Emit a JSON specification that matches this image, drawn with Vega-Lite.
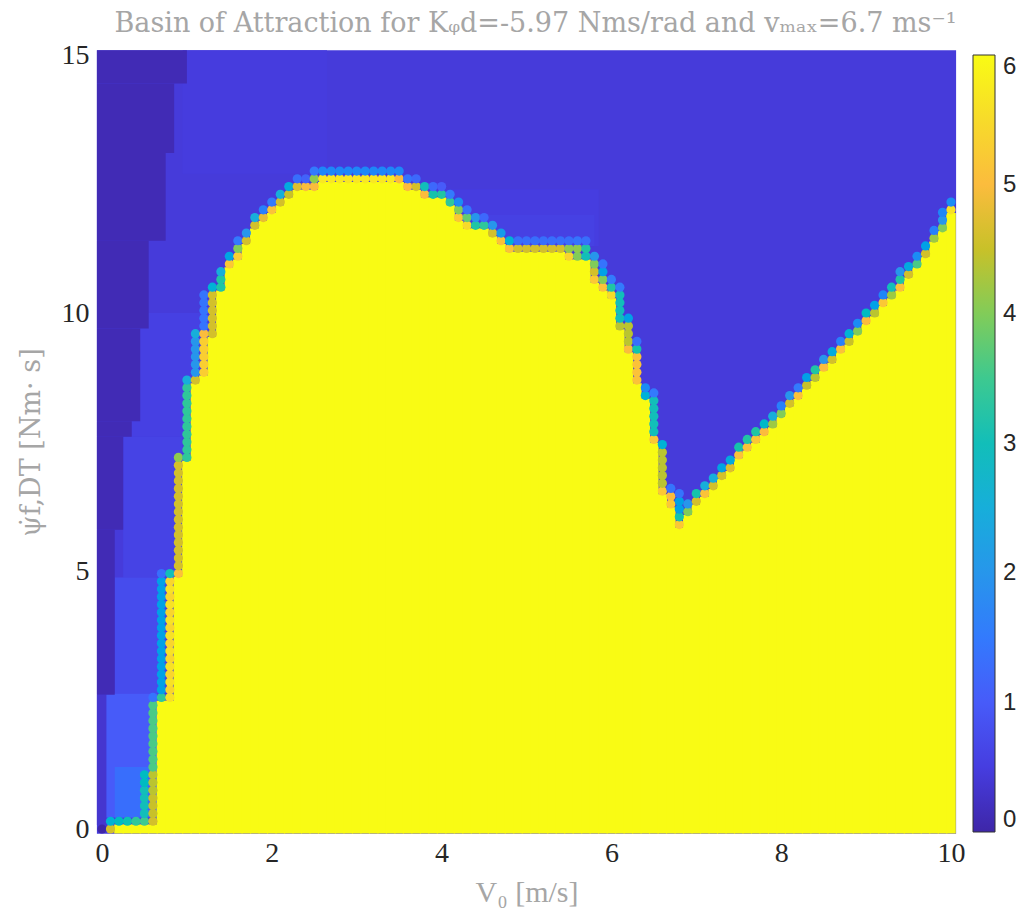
{
  "$schema": "https://vega.github.io/schema/vega-lite/v6.json",
  "width": 859,
  "height": 774,
  "autosize": {"type": "none"},
  "padding": {"left": 97, "top": 55, "right": 75, "bottom": 88},
  "background": "white",
  "title": {
    "text": "Basin of Attraction for Kᵩd=-5.97 Nms/rad and vₘₐₓ=6.7 ms⁻¹",
    "font": "DejaVu Serif",
    "fontSize": 27,
    "fontWeight": "normal",
    "color": "#a6a6a6",
    "anchor": "middle",
    "dx": 9,
    "offset": 3
  },
  "config": {
    "view": {"stroke": null},
    "axis": {
      "grid": false,
      "domain": false,
      "ticks": false,
      "tickSize": 0,
      "labelFont": "Liberation Serif",
      "labelFontSize": 28,
      "labelColor": "#262626",
      "titleFont": "Liberation Serif",
      "titleFontSize": 30,
      "titleFontWeight": "normal",
      "titleColor": "#a6a6a6"
    }
  },
  "datasets": {
    "blocks": [
      {"V0a": -0.06, "V0b": 10.06, "psia": -0.09, "psib": 15.09, "level": 0.45},
      {"V0a": 0.95, "V0b": 2.65, "psia": 12.7, "psib": 15.09, "level": 0.48},
      {"V0a": 3.65, "V0b": 5.85, "psia": 11.3, "psib": 12.4, "level": 0.5},
      {"V0a": 4.4, "V0b": 5.8, "psia": 11.3, "psib": 11.9, "level": 0.56},
      {"V0a": 0.35, "V0b": 1.25, "psia": 7.6, "psib": 10.0, "level": 0.55},
      {"V0a": 0.25, "V0b": 0.95, "psia": 4.875, "psib": 7.6, "level": 0.6},
      {"V0a": 0.15, "V0b": 0.75, "psia": 2.625, "psib": 4.875, "level": 0.75},
      {"V0a": 0.05, "V0b": 0.65, "psia": 0.225, "psib": 2.625, "level": 1.0},
      {"V0a": 0.15, "V0b": 0.55, "psia": 0.225, "psib": 1.2, "level": 1.3},
      {"V0a": -0.06, "V0b": 1.0, "psia": 14.45, "psib": 15.09, "level": 0.12},
      {"V0a": -0.06, "V0b": 0.85, "psia": 13.1, "psib": 14.45, "level": 0.12},
      {"V0a": -0.06, "V0b": 0.75, "psia": 11.4, "psib": 13.1, "level": 0.12},
      {"V0a": -0.06, "V0b": 0.55, "psia": 9.7, "psib": 11.4, "level": 0.12},
      {"V0a": -0.06, "V0b": 0.45, "psia": 7.9, "psib": 9.7, "level": 0.12},
      {"V0a": -0.06, "V0b": 0.35, "psia": 7.6, "psib": 7.9, "level": 0.12},
      {"V0a": -0.06, "V0b": 0.25, "psia": 5.8, "psib": 7.6, "level": 0.12},
      {"V0a": -0.06, "V0b": 0.15, "psia": 2.6, "psib": 5.8, "level": 0.12},
      {"V0a": -0.06, "V0b": 0.05, "psia": 0.075, "psib": 2.6, "level": 0.35}
    ],
    "cols": [
      {"V0": 0.2, "top": 0}, {"V0": 0.3, "top": 0}, {"V0": 0.4, "top": 0}, {"V0": 0.5, "top": 0},
      {"V0": 0.6, "top": 0}, {"V0": 0.7, "top": 2.4}, {"V0": 0.8, "top": 2.4}, {"V0": 0.9, "top": 4.8},
      {"V0": 1.0, "top": 7.05}, {"V0": 1.1, "top": 8.55}, {"V0": 1.2, "top": 8.7}, {"V0": 1.3, "top": 9.45},
      {"V0": 1.4, "top": 10.35}, {"V0": 1.5, "top": 10.8}, {"V0": 1.6, "top": 10.95}, {"V0": 1.7, "top": 11.25},
      {"V0": 1.8, "top": 11.55}, {"V0": 1.9, "top": 11.7}, {"V0": 2.0, "top": 11.85}, {"V0": 2.1, "top": 12.0},
      {"V0": 2.2, "top": 12.15}, {"V0": 2.3, "top": 12.3}, {"V0": 2.4, "top": 12.3}, {"V0": 2.5, "top": 12.3},
      {"V0": 2.6, "top": 12.45}, {"V0": 2.7, "top": 12.45}, {"V0": 2.8, "top": 12.45}, {"V0": 2.9, "top": 12.45},
      {"V0": 3.0, "top": 12.45}, {"V0": 3.1, "top": 12.45}, {"V0": 3.2, "top": 12.45}, {"V0": 3.3, "top": 12.45},
      {"V0": 3.4, "top": 12.45}, {"V0": 3.5, "top": 12.45}, {"V0": 3.6, "top": 12.3}, {"V0": 3.7, "top": 12.3},
      {"V0": 3.8, "top": 12.15}, {"V0": 3.9, "top": 12.15}, {"V0": 4.0, "top": 12.15}, {"V0": 4.1, "top": 12.0},
      {"V0": 4.2, "top": 11.7}, {"V0": 4.3, "top": 11.55}, {"V0": 4.4, "top": 11.55}, {"V0": 4.5, "top": 11.55},
      {"V0": 4.6, "top": 11.4}, {"V0": 4.7, "top": 11.25}, {"V0": 4.8, "top": 11.1}, {"V0": 4.9, "top": 11.1},
      {"V0": 5.0, "top": 11.1}, {"V0": 5.1, "top": 11.1}, {"V0": 5.2, "top": 11.1}, {"V0": 5.3, "top": 11.1},
      {"V0": 5.4, "top": 11.1}, {"V0": 5.5, "top": 10.95}, {"V0": 5.6, "top": 10.95}, {"V0": 5.7, "top": 10.95},
      {"V0": 5.8, "top": 10.5}, {"V0": 5.9, "top": 10.35}, {"V0": 6.0, "top": 10.2}, {"V0": 6.1, "top": 9.6},
      {"V0": 6.2, "top": 9.15}, {"V0": 6.3, "top": 8.55}, {"V0": 6.4, "top": 8.25}, {"V0": 6.5, "top": 7.4},
      {"V0": 6.6, "top": 6.4}, {"V0": 6.7, "top": 6.15}, {"V0": 6.8, "top": 5.75}, {"V0": 6.9, "top": 6.0},
      {"V0": 7.0, "top": 6.2}, {"V0": 7.1, "top": 6.35}, {"V0": 7.2, "top": 6.5}, {"V0": 7.3, "top": 6.7},
      {"V0": 7.4, "top": 6.85}, {"V0": 7.5, "top": 7.1}, {"V0": 7.6, "top": 7.25}, {"V0": 7.7, "top": 7.4},
      {"V0": 7.8, "top": 7.55}, {"V0": 7.9, "top": 7.7}, {"V0": 8.0, "top": 7.9}, {"V0": 8.1, "top": 8.1},
      {"V0": 8.2, "top": 8.25}, {"V0": 8.3, "top": 8.45}, {"V0": 8.4, "top": 8.6}, {"V0": 8.5, "top": 8.8},
      {"V0": 8.6, "top": 8.95}, {"V0": 8.7, "top": 9.15}, {"V0": 8.8, "top": 9.3}, {"V0": 8.9, "top": 9.5},
      {"V0": 9.0, "top": 9.7}, {"V0": 9.1, "top": 9.85}, {"V0": 9.2, "top": 10.05}, {"V0": 9.3, "top": 10.2},
      {"V0": 9.4, "top": 10.35}, {"V0": 9.5, "top": 10.6}, {"V0": 9.6, "top": 10.8}, {"V0": 9.7, "top": 11.0},
      {"V0": 9.8, "top": 11.3}, {"V0": 9.9, "top": 11.5}, {"V0": 10.0, "top": 11.85}
    ],
    "cells": [
      {"V0": 0, "psi": 0, "level": 0},
      {"V0": 0.1, "psi": 0, "level": 4.6}, {"V0": 0.1, "psi": 0.15, "level": 2.6},
      {"V0": 0.2, "psi": 0.15, "level": 2.9}, {"V0": 0.3, "psi": 0.15, "level": 3.1},
      {"V0": 0.4, "psi": 0.15, "level": 3.4}, {"V0": 0.5, "psi": 0.15, "level": 3.5},
      {"V0": 0.5, "psi": 0.3, "level": 3.0}, {"V0": 0.5, "psi": 0.45, "level": 3.0}, {"V0": 0.5, "psi": 0.6, "level": 3.0},
      {"V0": 0.5, "psi": 0.75, "level": 3.0}, {"V0": 0.5, "psi": 0.9, "level": 2.9}, {"V0": 0.5, "psi": 1.05, "level": 2.9},
      {"V0": 0.6, "psi": 0.15, "level": 4.6}, {"V0": 0.6, "psi": 0.3, "level": 4.5}, {"V0": 0.6, "psi": 0.45, "level": 4.5},
      {"V0": 0.6, "psi": 0.6, "level": 4.5}, {"V0": 0.6, "psi": 0.75, "level": 4.4}, {"V0": 0.6, "psi": 0.9, "level": 4.4},
      {"V0": 0.6, "psi": 1.05, "level": 4.4},
      {"V0": 0.6, "psi": 1.2, "level": 3.6}, {"V0": 0.6, "psi": 1.35, "level": 3.6}, {"V0": 0.6, "psi": 1.5, "level": 3.6},
      {"V0": 0.6, "psi": 1.65, "level": 3.6}, {"V0": 0.6, "psi": 1.8, "level": 3.6}, {"V0": 0.6, "psi": 1.95, "level": 3.6},
      {"V0": 0.6, "psi": 2.1, "level": 3.6}, {"V0": 0.6, "psi": 2.25, "level": 3.6}, {"V0": 0.6, "psi": 2.4, "level": 3.6},
      {"V0": 0.6, "psi": 2.55, "level": 1.4},
      {"V0": 0.7, "psi": 2.55, "level": 3.4},
      {"V0": 0.7, "psi": 2.7, "level": 2.2}, {"V0": 0.7, "psi": 2.85, "level": 2.2}, {"V0": 0.7, "psi": 3.0, "level": 2.2},
      {"V0": 0.7, "psi": 3.15, "level": 2.2}, {"V0": 0.7, "psi": 3.3, "level": 2.2}, {"V0": 0.7, "psi": 3.45, "level": 2.2},
      {"V0": 0.7, "psi": 3.6, "level": 2.2}, {"V0": 0.7, "psi": 3.75, "level": 2.2}, {"V0": 0.7, "psi": 3.9, "level": 2.2},
      {"V0": 0.7, "psi": 4.05, "level": 2.2}, {"V0": 0.7, "psi": 4.2, "level": 2.2}, {"V0": 0.7, "psi": 4.35, "level": 2.2},
      {"V0": 0.7, "psi": 4.5, "level": 2.2}, {"V0": 0.7, "psi": 4.65, "level": 2.2}, {"V0": 0.7, "psi": 4.8, "level": 2.2},
      {"V0": 0.7, "psi": 4.95, "level": 1.3},
      {"V0": 0.8, "psi": 2.55, "level": 5.6}, {"V0": 0.8, "psi": 2.7, "level": 5.4}, {"V0": 0.8, "psi": 2.85, "level": 5.6},
      {"V0": 0.8, "psi": 3.0, "level": 5.4}, {"V0": 0.8, "psi": 3.15, "level": 5.6}, {"V0": 0.8, "psi": 3.3, "level": 5.4},
      {"V0": 0.8, "psi": 3.45, "level": 5.6}, {"V0": 0.8, "psi": 3.6, "level": 5.4}, {"V0": 0.8, "psi": 3.75, "level": 5.6},
      {"V0": 0.8, "psi": 3.9, "level": 5.4}, {"V0": 0.8, "psi": 4.05, "level": 5.6}, {"V0": 0.8, "psi": 4.2, "level": 5.4},
      {"V0": 0.8, "psi": 4.35, "level": 5.6}, {"V0": 0.8, "psi": 4.5, "level": 5.4}, {"V0": 0.8, "psi": 4.65, "level": 5.6},
      {"V0": 0.8, "psi": 4.8, "level": 5.4}, {"V0": 0.8, "psi": 4.95, "level": 3.0},
      {"V0": 0.9, "psi": 4.95, "level": 5.1},
      {"V0": 0.9, "psi": 5.1, "level": 4.6}, {"V0": 0.9, "psi": 5.25, "level": 4.6}, {"V0": 0.9, "psi": 5.4, "level": 4.6},
      {"V0": 0.9, "psi": 5.55, "level": 4.6}, {"V0": 0.9, "psi": 5.7, "level": 4.6}, {"V0": 0.9, "psi": 5.85, "level": 4.6},
      {"V0": 0.9, "psi": 6.0, "level": 4.6}, {"V0": 0.9, "psi": 6.15, "level": 4.6}, {"V0": 0.9, "psi": 6.3, "level": 4.6},
      {"V0": 0.9, "psi": 6.45, "level": 4.6}, {"V0": 0.9, "psi": 6.6, "level": 4.6}, {"V0": 0.9, "psi": 6.75, "level": 4.6},
      {"V0": 0.9, "psi": 6.9, "level": 4.6}, {"V0": 0.9, "psi": 7.05, "level": 4.6}, {"V0": 0.9, "psi": 7.2, "level": 4.1},
      {"V0": 1.0, "psi": 7.2, "level": 3.4}, {"V0": 1.0, "psi": 7.35, "level": 3.4}, {"V0": 1.0, "psi": 7.5, "level": 3.4},
      {"V0": 1.0, "psi": 7.65, "level": 3.4}, {"V0": 1.0, "psi": 7.8, "level": 3.4}, {"V0": 1.0, "psi": 7.95, "level": 3.4},
      {"V0": 1.0, "psi": 8.1, "level": 3.4}, {"V0": 1.0, "psi": 8.25, "level": 3.4}, {"V0": 1.0, "psi": 8.4, "level": 3.4},
      {"V0": 1.0, "psi": 8.55, "level": 3.4}, {"V0": 1.0, "psi": 8.7, "level": 2.5},
      {"V0": 1.1, "psi": 8.7, "level": 4.6},
      {"V0": 1.1, "psi": 8.85, "level": 2.0}, {"V0": 1.1, "psi": 9.0, "level": 2.0}, {"V0": 1.1, "psi": 9.15, "level": 2.0},
      {"V0": 1.1, "psi": 9.3, "level": 2.0}, {"V0": 1.1, "psi": 9.45, "level": 2.0}, {"V0": 1.1, "psi": 9.6, "level": 2.5},
      {"V0": 1.2, "psi": 8.85, "level": 5.3}, {"V0": 1.2, "psi": 9.0, "level": 5.3}, {"V0": 1.2, "psi": 9.15, "level": 5.3},
      {"V0": 1.2, "psi": 9.3, "level": 5.3}, {"V0": 1.2, "psi": 9.45, "level": 5.3}, {"V0": 1.2, "psi": 9.6, "level": 5.0},
      {"V0": 1.2, "psi": 9.75, "level": 1.4}, {"V0": 1.2, "psi": 9.9, "level": 1.4}, {"V0": 1.2, "psi": 10.05, "level": 1.4},
      {"V0": 1.2, "psi": 10.2, "level": 1.4}, {"V0": 1.2, "psi": 10.35, "level": 1.4},
      {"V0": 1.3, "psi": 9.6, "level": 4.6}, {"V0": 1.3, "psi": 9.75, "level": 4.6}, {"V0": 1.3, "psi": 9.9, "level": 4.6},
      {"V0": 1.3, "psi": 10.05, "level": 4.6}, {"V0": 1.3, "psi": 10.2, "level": 4.6}, {"V0": 1.3, "psi": 10.35, "level": 4.6},
      {"V0": 1.3, "psi": 10.5, "level": 2.6},
      {"V0": 1.4, "psi": 10.5, "level": 3.3}, {"V0": 1.4, "psi": 10.65, "level": 3.3}, {"V0": 1.4, "psi": 10.8, "level": 2.5},
      {"V0": 1.5, "psi": 10.95, "level": 5.2}, {"V0": 1.5, "psi": 11.1, "level": 2.3},
      {"V0": 1.6, "psi": 11.1, "level": 5.3}, {"V0": 1.6, "psi": 11.25, "level": 4.0}, {"V0": 1.6, "psi": 11.4, "level": 1.5},
      {"V0": 1.7, "psi": 11.4, "level": 4.6}, {"V0": 1.7, "psi": 11.55, "level": 2.0},
      {"V0": 1.8, "psi": 11.7, "level": 4.6}, {"V0": 1.8, "psi": 11.85, "level": 2.5},
      {"V0": 1.9, "psi": 11.85, "level": 4.8}, {"V0": 1.9, "psi": 12.0, "level": 1.6},
      {"V0": 2.0, "psi": 12.0, "level": 5.1}, {"V0": 2.0, "psi": 12.15, "level": 1.5},
      {"V0": 2.1, "psi": 12.15, "level": 4.6}, {"V0": 2.1, "psi": 12.3, "level": 2.5},
      {"V0": 2.2, "psi": 12.3, "level": 4.5}, {"V0": 2.2, "psi": 12.45, "level": 2.4},
      {"V0": 2.3, "psi": 12.45, "level": 4.7}, {"V0": 2.3, "psi": 12.6, "level": 1.3},
      {"V0": 2.4, "psi": 12.45, "level": 5.0}, {"V0": 2.4, "psi": 12.6, "level": 1.1},
      {"V0": 2.5, "psi": 12.45, "level": 5.0}, {"V0": 2.5, "psi": 12.6, "level": 4.1}, {"V0": 2.5, "psi": 12.75, "level": 1.5},
      {"V0": 2.6, "psi": 12.6, "level": 5.7}, {"V0": 2.6, "psi": 12.75, "level": 1.7},
      {"V0": 2.7, "psi": 12.6, "level": 5.7}, {"V0": 2.7, "psi": 12.75, "level": 1.7},
      {"V0": 2.8, "psi": 12.6, "level": 5.7}, {"V0": 2.8, "psi": 12.75, "level": 1.7},
      {"V0": 2.9, "psi": 12.6, "level": 5.7}, {"V0": 2.9, "psi": 12.75, "level": 1.7},
      {"V0": 3.0, "psi": 12.6, "level": 5.7}, {"V0": 3.0, "psi": 12.75, "level": 1.7},
      {"V0": 3.1, "psi": 12.6, "level": 5.7}, {"V0": 3.1, "psi": 12.75, "level": 1.7},
      {"V0": 3.2, "psi": 12.6, "level": 5.7}, {"V0": 3.2, "psi": 12.75, "level": 1.7},
      {"V0": 3.3, "psi": 12.6, "level": 5.7}, {"V0": 3.3, "psi": 12.75, "level": 1.7},
      {"V0": 3.4, "psi": 12.6, "level": 5.7}, {"V0": 3.4, "psi": 12.75, "level": 1.7},
      {"V0": 3.5, "psi": 12.6, "level": 5.0}, {"V0": 3.5, "psi": 12.75, "level": 1.7},
      {"V0": 3.6, "psi": 12.45, "level": 5.0}, {"V0": 3.6, "psi": 12.6, "level": 1.4},
      {"V0": 3.7, "psi": 12.45, "level": 4.6}, {"V0": 3.7, "psi": 12.6, "level": 1.2},
      {"V0": 3.8, "psi": 12.3, "level": 5.0}, {"V0": 3.8, "psi": 12.45, "level": 3.0},
      {"V0": 3.9, "psi": 12.3, "level": 3.2}, {"V0": 3.9, "psi": 12.45, "level": 1.2},
      {"V0": 4.0, "psi": 12.3, "level": 3.3}, {"V0": 4.0, "psi": 12.45, "level": 1.0},
      {"V0": 4.1, "psi": 12.15, "level": 3.4}, {"V0": 4.1, "psi": 12.3, "level": 1.5},
      {"V0": 4.2, "psi": 11.85, "level": 5.2}, {"V0": 4.2, "psi": 12.0, "level": 4.0}, {"V0": 4.2, "psi": 12.15, "level": 1.8},
      {"V0": 4.3, "psi": 11.7, "level": 5.5}, {"V0": 4.3, "psi": 11.85, "level": 3.8}, {"V0": 4.3, "psi": 12.0, "level": 1.4},
      {"V0": 4.4, "psi": 11.7, "level": 3.3}, {"V0": 4.4, "psi": 11.85, "level": 2.0},
      {"V0": 4.5, "psi": 11.7, "level": 3.4}, {"V0": 4.5, "psi": 11.85, "level": 1.2},
      {"V0": 4.6, "psi": 11.55, "level": 4.6}, {"V0": 4.6, "psi": 11.7, "level": 2.0},
      {"V0": 4.7, "psi": 11.4, "level": 5.1}, {"V0": 4.7, "psi": 11.55, "level": 2.1},
      {"V0": 4.8, "psi": 11.25, "level": 5.1}, {"V0": 4.8, "psi": 11.4, "level": 2.6},
      {"V0": 4.9, "psi": 11.25, "level": 4.6}, {"V0": 4.9, "psi": 11.4, "level": 1.3},
      {"V0": 5.0, "psi": 11.25, "level": 4.6}, {"V0": 5.0, "psi": 11.4, "level": 1.3},
      {"V0": 5.1, "psi": 11.25, "level": 4.6}, {"V0": 5.1, "psi": 11.4, "level": 1.3},
      {"V0": 5.2, "psi": 11.25, "level": 4.6}, {"V0": 5.2, "psi": 11.4, "level": 1.3},
      {"V0": 5.3, "psi": 11.25, "level": 4.6}, {"V0": 5.3, "psi": 11.4, "level": 1.3},
      {"V0": 5.4, "psi": 11.25, "level": 4.6}, {"V0": 5.4, "psi": 11.4, "level": 1.3},
      {"V0": 5.5, "psi": 11.1, "level": 5.4}, {"V0": 5.5, "psi": 11.25, "level": 4.1}, {"V0": 5.5, "psi": 11.4, "level": 1.3},
      {"V0": 5.6, "psi": 11.1, "level": 4.0}, {"V0": 5.6, "psi": 11.25, "level": 4.1}, {"V0": 5.6, "psi": 11.4, "level": 1.4},
      {"V0": 5.7, "psi": 11.1, "level": 3.0}, {"V0": 5.7, "psi": 11.25, "level": 3.3}, {"V0": 5.7, "psi": 11.4, "level": 1.3},
      {"V0": 5.8, "psi": 10.65, "level": 5.2}, {"V0": 5.8, "psi": 10.8, "level": 4.6}, {"V0": 5.8, "psi": 10.95, "level": 4.0},
      {"V0": 5.8, "psi": 11.1, "level": 2.0},
      {"V0": 5.9, "psi": 10.5, "level": 5.1}, {"V0": 5.9, "psi": 10.65, "level": 4.0}, {"V0": 5.9, "psi": 10.8, "level": 2.2},
      {"V0": 5.9, "psi": 10.95, "level": 1.4},
      {"V0": 6.0, "psi": 10.35, "level": 5.5}, {"V0": 6.0, "psi": 10.5, "level": 3.3}, {"V0": 6.0, "psi": 10.65, "level": 1.5},
      {"V0": 6.1, "psi": 9.75, "level": 4.4}, {"V0": 6.1, "psi": 9.9, "level": 3.0}, {"V0": 6.1, "psi": 10.05, "level": 3.0},
      {"V0": 6.1, "psi": 10.2, "level": 3.0}, {"V0": 6.1, "psi": 10.35, "level": 3.0}, {"V0": 6.1, "psi": 10.5, "level": 1.5},
      {"V0": 6.2, "psi": 9.3, "level": 5.0}, {"V0": 6.2, "psi": 9.45, "level": 4.4}, {"V0": 6.2, "psi": 9.6, "level": 4.4},
      {"V0": 6.2, "psi": 9.75, "level": 4.4}, {"V0": 6.2, "psi": 9.9, "level": 2.2},
      {"V0": 6.3, "psi": 8.7, "level": 5.1}, {"V0": 6.3, "psi": 8.85, "level": 5.1}, {"V0": 6.3, "psi": 9.0, "level": 5.1},
      {"V0": 6.3, "psi": 9.15, "level": 5.1}, {"V0": 6.3, "psi": 9.3, "level": 3.2}, {"V0": 6.3, "psi": 9.45, "level": 1.3},
      {"V0": 6.4, "psi": 8.4, "level": 2.6}, {"V0": 6.4, "psi": 8.55, "level": 1.8},
      {"V0": 6.5, "psi": 7.55, "level": 5.2}, {"V0": 6.5, "psi": 7.7, "level": 3.0}, {"V0": 6.5, "psi": 7.85, "level": 3.0},
      {"V0": 6.5, "psi": 8.0, "level": 3.0}, {"V0": 6.5, "psi": 8.15, "level": 3.0}, {"V0": 6.5, "psi": 8.3, "level": 3.0},
      {"V0": 6.5, "psi": 8.45, "level": 1.5},
      {"V0": 6.6, "psi": 6.55, "level": 5.2}, {"V0": 6.6, "psi": 6.7, "level": 4.4}, {"V0": 6.6, "psi": 6.85, "level": 4.4},
      {"V0": 6.6, "psi": 7.0, "level": 4.4}, {"V0": 6.6, "psi": 7.15, "level": 4.4}, {"V0": 6.6, "psi": 7.3, "level": 4.4},
      {"V0": 6.6, "psi": 7.45, "level": 2.6},
      {"V0": 6.7, "psi": 6.3, "level": 5.2}, {"V0": 6.7, "psi": 6.45, "level": 5.0}, {"V0": 6.7, "psi": 6.6, "level": 1.4},
      {"V0": 6.8, "psi": 5.9, "level": 5.2}, {"V0": 6.8, "psi": 6.05, "level": 3.2}, {"V0": 6.8, "psi": 6.2, "level": 2.2},
      {"V0": 6.8, "psi": 6.35, "level": 2.2}, {"V0": 6.8, "psi": 6.5, "level": 1.4},
      {"V0": 6.9, "psi": 6.15, "level": 4.0}, {"V0": 6.9, "psi": 6.3, "level": 2.0},
      {"V0": 7.0, "psi": 6.35, "level": 4.6}, {"V0": 7.0, "psi": 6.5, "level": 3.2},
      {"V0": 7.1, "psi": 6.5, "level": 5.1}, {"V0": 7.1, "psi": 6.65, "level": 2.5},
      {"V0": 7.2, "psi": 6.65, "level": 4.6}, {"V0": 7.2, "psi": 6.8, "level": 2.5},
      {"V0": 7.3, "psi": 6.85, "level": 4.6}, {"V0": 7.3, "psi": 7.0, "level": 2.3},
      {"V0": 7.4, "psi": 7.0, "level": 4.7}, {"V0": 7.4, "psi": 7.15, "level": 2.4},
      {"V0": 7.5, "psi": 7.25, "level": 5.1}, {"V0": 7.5, "psi": 7.4, "level": 3.2},
      {"V0": 7.6, "psi": 7.4, "level": 5.1}, {"V0": 7.6, "psi": 7.55, "level": 3.3},
      {"V0": 7.7, "psi": 7.55, "level": 5.2}, {"V0": 7.7, "psi": 7.7, "level": 3.3},
      {"V0": 7.8, "psi": 7.7, "level": 5.0}, {"V0": 7.8, "psi": 7.85, "level": 2.8},
      {"V0": 7.9, "psi": 7.85, "level": 4.2}, {"V0": 7.9, "psi": 8.0, "level": 2.5},
      {"V0": 8.0, "psi": 8.05, "level": 4.0}, {"V0": 8.0, "psi": 8.2, "level": 1.6},
      {"V0": 8.1, "psi": 8.25, "level": 4.6}, {"V0": 8.1, "psi": 8.4, "level": 2.0},
      {"V0": 8.2, "psi": 8.4, "level": 5.1}, {"V0": 8.2, "psi": 8.55, "level": 1.5},
      {"V0": 8.3, "psi": 8.6, "level": 4.5}, {"V0": 8.3, "psi": 8.75, "level": 2.2},
      {"V0": 8.4, "psi": 8.75, "level": 4.4}, {"V0": 8.4, "psi": 8.9, "level": 3.3},
      {"V0": 8.5, "psi": 8.95, "level": 5.0}, {"V0": 8.5, "psi": 9.1, "level": 2.0},
      {"V0": 8.6, "psi": 9.1, "level": 4.6}, {"V0": 8.6, "psi": 9.25, "level": 2.4},
      {"V0": 8.7, "psi": 9.3, "level": 5.1}, {"V0": 8.7, "psi": 9.45, "level": 1.6},
      {"V0": 8.8, "psi": 9.45, "level": 4.5}, {"V0": 8.8, "psi": 9.6, "level": 2.6},
      {"V0": 8.9, "psi": 9.65, "level": 4.0}, {"V0": 8.9, "psi": 9.8, "level": 1.8},
      {"V0": 9.0, "psi": 9.85, "level": 5.0}, {"V0": 9.0, "psi": 10.0, "level": 2.9},
      {"V0": 9.1, "psi": 10.0, "level": 4.4}, {"V0": 9.1, "psi": 10.15, "level": 2.2},
      {"V0": 9.2, "psi": 10.2, "level": 5.2}, {"V0": 9.2, "psi": 10.35, "level": 1.7},
      {"V0": 9.3, "psi": 10.35, "level": 4.2}, {"V0": 9.3, "psi": 10.5, "level": 3.0},
      {"V0": 9.4, "psi": 10.5, "level": 5.1}, {"V0": 9.4, "psi": 10.65, "level": 3.3}, {"V0": 9.4, "psi": 10.8, "level": 2.0},
      {"V0": 9.5, "psi": 10.75, "level": 4.6}, {"V0": 9.5, "psi": 10.9, "level": 2.4},
      {"V0": 9.6, "psi": 10.95, "level": 3.6}, {"V0": 9.6, "psi": 11.1, "level": 1.8},
      {"V0": 9.7, "psi": 11.15, "level": 4.6}, {"V0": 9.7, "psi": 11.3, "level": 2.2},
      {"V0": 9.8, "psi": 11.45, "level": 4.2}, {"V0": 9.8, "psi": 11.6, "level": 1.6},
      {"V0": 9.9, "psi": 11.65, "level": 4.0}, {"V0": 9.9, "psi": 11.8, "level": 2.0}, {"V0": 9.9, "psi": 11.95, "level": 1.7},
      {"V0": 10.0, "psi": 12.0, "level": 5.6}, {"V0": 10.0, "psi": 12.15, "level": 1.8}
    ]
  },
  "layer": [
    {
      "data": {"name": "blocks"},
      "mark": {"type": "rect", "strokeWidth": 0},
      "encoding": {
        "x": {
          "field": "V0a", "type": "quantitative", "title": "V₀ [m/s]",
          "scale": {"domain": [0, 10], "nice": false, "zero": false},
          "axis": {"values": [0, 2, 4, 6, 8, 10], "format": "d", "labelPadding": 10, "titlePadding": 10}
        },
        "x2": {"field": "V0b"},
        "y": {
          "field": "psia", "type": "quantitative", "title": "ψ̇f,DT [Nm· s]",
          "scale": {"domain": [0, 15], "nice": false, "zero": false},
          "axis": {"values": [0, 5, 10, 15], "format": "d", "labelPadding": 8, "titlePadding": 16, "titleFont": "DejaVu Serif", "titleFontSize": 27}
        },
        "y2": {"field": "psib"},
        "color": {
          "field": "level", "type": "quantitative", "title": null,
          "scale": {
            "domain": [0, 0.5, 1, 1.5, 2, 2.5, 3, 3.5, 4, 4.5, 5, 5.5, 6],
            "range": ["#3E26A8", "#463DE0", "#475BF9", "#337AFD", "#2796EB", "#17AEDA", "#12BEB9", "#3DC990", "#81CC59", "#C8C129", "#FBBC3D", "#F7DB2A", "#F9FB14"]
          },
          "legend": {
            "orient": "right",
            "offset": 17,
            "direction": "vertical",
            "values": [0, 1, 2, 3, 4, 5, 6],
            "format": "d",
            "gradientLength": 777,
            "gradientThickness": 22,
            "gradientStrokeColor": "#333333",
            "gradientStrokeWidth": 1,
            "labelFont": "Liberation Sans",
            "labelFontSize": 24,
            "labelColor": "#262626",
            "labelOffset": 8,
            "labelBaseline": "middle",
            "labelOverlap": false
          }
        }
      }
    },
    {
      "data": {"name": "cols"},
      "mark": {"type": "bar", "width": 9.6, "color": "#F9FB14", "yOffset": -4.5, "y2Offset": 4.5, "strokeWidth": 0},
      "encoding": {
        "x": {"field": "V0", "type": "quantitative", "title": "V₀ [m/s]"},
        "y": {"field": "top", "type": "quantitative", "title": "ψ̇f,DT [Nm· s]"},
        "y2": {"datum": 0}
      }
    },
    {
      "data": {"name": "cells"},
      "mark": {"type": "circle", "size": 85, "opacity": 1, "strokeWidth": 0},
      "encoding": {
        "x": {"field": "V0", "type": "quantitative", "title": "V₀ [m/s]"},
        "y": {"field": "psi", "type": "quantitative", "title": "ψ̇f,DT [Nm· s]"},
        "color": {"field": "level", "type": "quantitative", "title": null}
      }
    }
  ]
}
